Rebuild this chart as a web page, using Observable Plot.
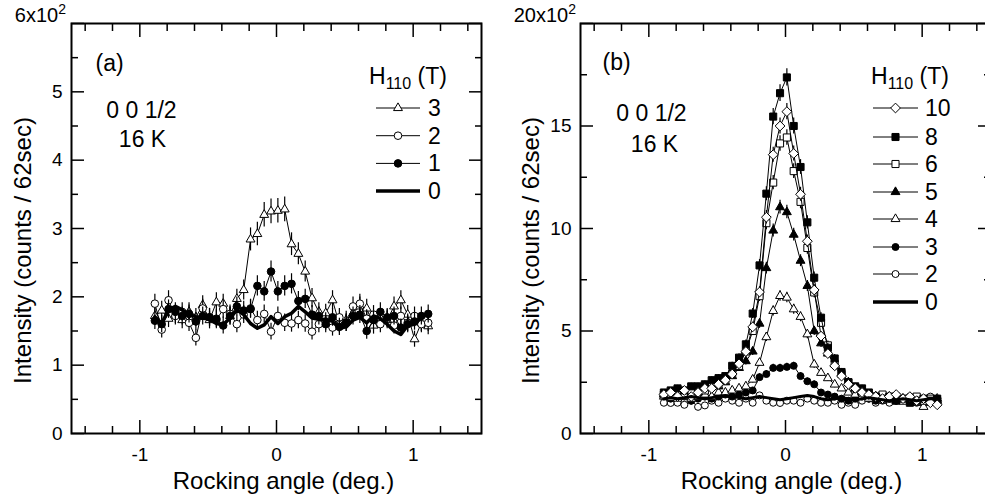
<!DOCTYPE html>
<html><head><meta charset="utf-8">
<script src="https://cdn.jsdelivr.net/npm/d3@7"></script>
<script src="https://cdn.jsdelivr.net/npm/@observablehq/plot@0.6"></script>
<style>
html,body{margin:0;padding:0;background:#fff;overflow:hidden}
#wrap{position:relative;width:985px;height:500px;overflow:hidden;font-family:"Liberation Sans",Arial,Helvetica,sans-serif}
.panel{position:absolute;top:0}
#overlay{position:absolute;left:0;top:0;pointer-events:none}
</style></head><body><div id="wrap"></div>
<script>
// rocking angle (deg.)
const angles = [-0.89,-0.84,-0.79,-0.74,-0.69,-0.64,-0.59,-0.54,-0.49,-0.44,-0.39,-0.34,-0.29,-0.24,-0.19,-0.14,-0.09,-0.04,0.01,0.06,0.11,0.16,0.21,0.26,0.31,0.36,0.41,0.46,0.51,0.56,0.61,0.66,0.71,0.76,0.81,0.86,0.91,0.96,1.01,1.06,1.11];

// panel (a): intensity in units of 100 counts / 62 sec
const a3 = [1.72,1.80,1.68,1.74,1.66,1.78,1.70,1.88,1.66,1.92,1.90,1.72,1.97,2.10,2.84,2.92,3.20,3.25,3.26,3.28,2.77,2.63,2.37,1.98,1.78,1.76,1.95,1.60,1.66,1.76,1.86,1.83,1.58,1.69,1.66,1.86,1.95,1.74,1.38,1.62,1.57];
const a2 = [1.90,1.52,1.95,1.72,1.78,1.62,1.40,1.83,1.70,1.66,1.82,1.75,1.60,1.74,1.83,1.66,1.75,1.49,1.72,1.62,1.61,1.66,1.61,1.49,1.60,1.64,1.55,1.70,1.62,1.86,1.90,1.68,1.74,1.60,1.68,1.58,1.72,1.62,1.72,1.60,1.62];
const a1 = [1.65,1.60,1.82,1.78,1.72,1.75,1.64,1.72,1.70,1.68,1.58,1.72,1.86,1.80,1.82,2.16,2.08,2.37,2.08,2.16,2.19,1.94,1.97,1.74,1.72,1.60,1.70,1.56,1.62,1.72,1.74,1.50,1.66,1.78,1.70,1.72,1.55,1.60,1.64,1.72,1.75];
const a0 = [1.71,1.61,1.81,1.86,1.81,1.74,1.71,1.69,1.67,1.61,1.59,1.69,1.81,1.74,1.61,1.54,1.59,1.71,1.61,1.71,1.76,1.86,1.78,1.69,1.67,1.67,1.64,1.54,1.56,1.66,1.70,1.62,1.72,1.68,1.60,1.50,1.45,1.58,1.60,1.70,1.75];

// panel (b)
const b10 = [1.9,2.0,1.8,2.1,1.8,2.0,2.2,2.2,2.4,2.6,2.9,3.4,4.0,5.2,6.9,10.55,13.6,15.0,15.7,13.66,11.67,9.38,7.0,4.75,3.9,3.3,2.8,2.4,2.2,2.0,1.9,1.8,1.7,1.8,1.9,1.7,1.8,1.6,1.7,1.5,1.4];
const b8 = [2.0,2.1,2.2,2.1,2.3,2.3,2.4,2.6,2.7,2.8,3.3,3.7,4.35,5.85,8.2,11.7,15.46,16.6,17.37,15.0,13.0,10.3,7.6,5.65,4.18,3.66,3.0,2.5,2.3,2.2,2.0,1.8,1.7,1.8,1.6,1.7,1.5,1.6,1.7,1.6,1.7];
const b6 = [1.9,1.8,2.0,1.9,2.0,2.1,2.1,2.3,2.4,2.6,2.9,3.3,4.0,5.0,6.7,10.26,12.24,14.15,14.44,12.8,11.3,9.05,6.88,5.4,4.3,3.4,2.9,2.5,2.2,2.0,1.9,1.8,1.9,1.7,1.8,1.6,1.7,1.8,1.6,1.7,1.6];
const b5 = [1.9,2.0,1.9,2.0,2.1,2.0,2.2,2.3,2.3,2.5,2.8,3.2,3.53,4.0,5.36,8.07,9.9,11.04,10.8,9.7,8.43,7.2,5.0,4.4,3.9,3.4,2.9,2.5,2.2,2.0,1.9,1.8,1.7,1.8,1.6,1.7,1.6,1.7,1.6,1.5,1.6];
const b4 = [1.8,1.9,1.7,1.8,1.7,1.8,1.9,1.8,2.0,2.0,2.1,2.2,2.3,2.63,3.45,4.7,5.98,6.71,6.63,6.06,5.69,4.84,3.37,2.96,2.7,2.39,2.2,2.0,1.9,1.8,1.7,1.8,1.6,1.7,1.8,1.6,1.7,1.5,1.3,1.6,1.7];
const b3 = [1.8,1.7,1.9,1.8,1.6,1.7,1.8,1.7,1.8,1.9,1.8,1.9,2.0,2.1,2.75,2.9,3.2,3.2,3.25,3.3,2.8,2.55,2.4,2.0,1.9,1.8,1.7,1.6,1.7,1.8,1.7,1.6,1.8,1.7,1.6,1.7,1.8,1.6,1.7,1.6,1.7];
const b2 = [1.5,1.49,1.5,1.4,1.6,1.3,1.37,1.6,1.5,1.7,1.6,1.5,1.7,1.5,1.86,1.6,1.5,1.49,1.6,1.6,1.5,1.7,1.6,1.5,1.5,1.6,1.4,1.5,1.4,1.6,1.7,1.5,1.6,1.5,1.6,1.7,1.6,1.5,1.6,1.8,1.7];
const b0 = [1.7,1.75,1.7,1.75,1.8,1.75,1.7,1.75,1.8,1.85,1.8,1.75,1.7,1.75,1.8,1.75,1.7,1.65,1.7,1.75,1.8,1.85,1.8,1.7,1.65,1.7,1.75,1.7,1.65,1.7,1.75,1.7,1.65,1.6,1.65,1.7,1.65,1.6,1.65,1.7,1.7];

const fieldsA = ["3","2","1","0"];
const fieldsB = ["10","8","6","5","4","3","2","0"];

// ticks
const xMajor = [-1, 0, 1];
const xMinor = [-1.4,-1.2,-0.8,-0.6,-0.4,-0.2,0.2,0.4,0.6,0.8,1.2,1.4];
const yMajorA = [0,1,2,3,4,5,6];
const yMinorA = [0.5,1.5,2.5,3.5,4.5,5.5];
const yLabeledA = [0,1,2,3,4,5];
const yMajorB = [0,5,10,15,20];
const yMinorB = [2.5,7.5,12.5,17.5];
const yLabeledB = [0,5,10,15];

const FONT = '"Liberation Sans", Arial, Helvetica, sans-serif';

const seriesA = [
  {key:"3", values:a3, symbol:"triangle", fill:"white", r:3.3},
  {key:"2", values:a2, symbol:"circle", fill:"white", r:3.8},
  {key:"1", values:a1, symbol:"circle", fill:"black", r:3.8},
  {key:"0", values:a0, symbol:null, width:3.5}
];
const seriesB = [
  {key:"2", values:b2, symbol:"circle", fill:"white", r:3.5},
  {key:"3", values:b3, symbol:"circle", fill:"black", r:3.5},
  {key:"4", values:b4, symbol:"triangle", fill:"white", r:3.3},
  {key:"5", values:b5, symbol:"triangle", fill:"black", r:3.3},
  {key:"6", values:b6, symbol:"square", fill:"white", r:4.0},
  {key:"8", values:b8, symbol:"square", fill:"black", r:4.0},
  {key:"10", values:b10, symbol:"diamond2", fill:"white", r:4.4},
  {key:"0", values:b0, symbol:null, width:3}
];

function panel(cfg) {
  const marks = [];
  const err = d => Math.sqrt(d.y * 100) / 100;
  for (const s of cfg.series) {
    const rows = angles.map((x, i) => ({x, y: s.values[i]}));
    if (s.symbol) {
      marks.push(Plot.line(rows, {x: "x", y: "y", stroke: "black", strokeWidth: 1}));
      marks.push(Plot.ruleX(rows, {x: "x", y1: d => d.y - err(d), y2: d => d.y + err(d), stroke: "black", strokeWidth: 1.2}));
      marks.push(Plot.dot(rows, {x: "x", y: "y", symbol: s.symbol, r: s.r, fill: s.fill, stroke: "black", strokeWidth: 1}));
    } else {
      marks.push(Plot.line(rows, {x: "x", y: "y", stroke: "black", strokeWidth: s.width}));
    }
  }
  const blank = () => "";
  // axes with inward ticks
  marks.push(Plot.axisX(xMajor, {anchor: "bottom", tickSize: -13, tickPadding: 27, tickFormat: d => String(d), fontSize: 19, label: null, strokeWidth: 1.5}));
  marks.push(Plot.axisX(xMinor, {anchor: "bottom", tickSize: -7, tickFormat: blank, label: null, strokeWidth: 1.5}));
  marks.push(Plot.axisX(xMajor, {anchor: "top", tickSize: -13, tickFormat: blank, label: null, strokeWidth: 1.5}));
  marks.push(Plot.axisX(xMinor, {anchor: "top", tickSize: -7, tickFormat: blank, label: null, strokeWidth: 1.5}));
  marks.push(Plot.axisY(cfg.yMajor, {anchor: "left", tickSize: -13, tickFormat: blank, label: null, strokeWidth: 1.5}));
  marks.push(Plot.axisY(cfg.yLabeled, {anchor: "left", tickSize: 0, tickPadding: 9, tickFormat: d => String(d), fontSize: 19, label: null, strokeWidth: 0}));
  marks.push(Plot.axisY(cfg.yMinor, {anchor: "left", tickSize: -7, tickFormat: blank, label: null, strokeWidth: 1.5}));
  marks.push(Plot.axisY(cfg.yMajor, {anchor: "right", tickSize: -13, tickFormat: blank, label: null, strokeWidth: 1.5}));
  marks.push(Plot.axisY(cfg.yMinor, {anchor: "right", tickSize: -7, tickFormat: blank, label: null, strokeWidth: 1.5}));
  marks.push(Plot.frame({stroke: "black", strokeWidth: 2}));
  // annotations
  marks.push(Plot.text([cfg.tag], {frameAnchor: "top-left", dx: cfg.tagDx, dy: cfg.tagDy, textAnchor: "start", lineAnchor: "middle", fontSize: 23}));
  marks.push(Plot.text(["0 0 1/2"], {frameAnchor: "top-left", dx: cfg.hklDx, dy: cfg.hklDy, textAnchor: "middle", lineAnchor: "middle", fontSize: 23}));
  marks.push(Plot.text(["16 K"], {frameAnchor: "top-left", dx: cfg.tDx, dy: cfg.tDy, textAnchor: "middle", lineAnchor: "middle", fontSize: 23}));
  marks.push(Plot.text(["Rocking angle (deg.)"], {frameAnchor: "bottom", dx: cfg.xlabDx, dy: 48, textAnchor: "middle", lineAnchor: "middle", fontSize: 24}));
  marks.push(Plot.text(["Intensity (counts / 62sec)"], {frameAnchor: "left", dx: cfg.ylabDx, dy: 22, rotate: -90, textAnchor: "middle", lineAnchor: "middle", fontSize: 24}));

  return Plot.plot({
    width: cfg.width, height: 500,
    marginLeft: cfg.marginLeft, marginRight: cfg.marginRight, marginTop: 23, marginBottom: 67,
    x: {domain: [-1.5, 1.5]},
    y: {domain: cfg.yDomain},
    style: {fontFamily: FONT, background: "transparent", overflow: "visible", color: "black"},
    marks
  });
}

const wrap = document.getElementById("wrap");

const pa = panel({series: seriesA, yDomain: [0, 6], yMajor: yMajorA, yMinor: yMinorA, yLabeled: yLabeledA,
  width: 490, marginLeft: 71, marginRight: 9, tag: "(a)", tagDx: 24, tagDy: 40,
  hklDx: 70, hklDy: 87, tDx: 71, tDy: 116, xlabDx: 7, ylabDx: -48});
pa.classList.add("panel"); pa.style.left = "0px";
wrap.appendChild(pa);

const pb = panel({series: seriesB, yDomain: [0, 20], yMajor: yMajorB, yMinor: yMinorB, yLabeled: yLabeledB,
  width: 500, marginLeft: 90, marginRight: 0, tag: "(b)", tagDx: 22, tagDy: 39,
  hklDx: 71, hklDy: 90, tDx: 74, tDy: 121, xlabDx: 6, ylabDx: -49});
pb.classList.add("panel"); pb.style.left = "490px";
wrap.appendChild(pb);

// overlay: exponent labels and legends
const ov = d3.select(wrap).append("svg").attr("id", "overlay").attr("width", 985).attr("height", 500)
  .style("font-family", FONT);

function expo(xEnd, yBase, mant) {
  const t = ov.append("text").attr("x", xEnd).attr("y", yBase).attr("text-anchor", "end").attr("font-size", 20);
  t.append("tspan").text(mant + "x10");
  t.append("tspan").attr("dy", -8).attr("font-size", 14).text("2");
}
expo(66, 22, "6");
expo(576, 22, "20");

const symMap = {triangle: d3.symbolTriangle, circle: d3.symbolCircle, square: d3.symbolSquare, diamond2: d3.symbolDiamond2};

function legend(cfg) {
  const t = ov.append("text").attr("x", cfg.titleX).attr("y", cfg.titleY).attr("font-size", 23);
  t.append("tspan").text("H");
  t.append("tspan").attr("font-size", 16).attr("dy", 5).text("110");
  t.append("tspan").attr("dy", -5).text(" (T)");
  cfg.keys.forEach((k, i) => {
    const s = cfg.series.find(d => d.key === k);
    const y = cfg.rows[i];
    ov.append("line").attr("x1", cfg.x1).attr("x2", cfg.x2).attr("y1", y).attr("y2", y)
      .attr("stroke", "black").attr("stroke-width", s.symbol ? 1 : 3.5);
    if (s.symbol) {
      ov.append("path").attr("transform", `translate(${(cfg.x1 + cfg.x2) / 2},${y})`)
        .attr("d", d3.symbol(symMap[s.symbol], Math.PI * s.r * s.r)())
        .attr("fill", s.fill).attr("stroke", "black").attr("stroke-width", 1);
    }
    ov.append("text").attr("x", cfg.labelX).attr("y", y + 8).attr("font-size", 23).text(k);
  });
}
legend({series: seriesA, keys: fieldsA, x1: 376, x2: 420, labelX: 428, titleX: 369, titleY: 84, rows: [108, 135.7, 163.4, 191]});
legend({series: seriesB, keys: fieldsB, x1: 873, x2: 918, labelX: 925, titleX: 871, titleY: 84, rows: [108, 137, 164, 192, 219, 247, 274, 302]});
</script>
</body></html>
